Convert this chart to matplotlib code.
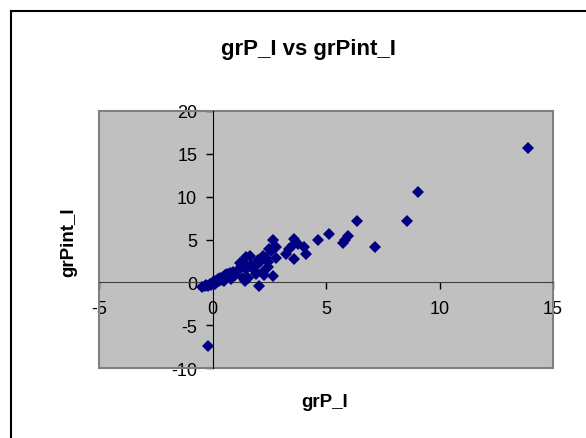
import numpy as np
import matplotlib
matplotlib.use("Agg")
import matplotlib.pyplot as plt
from matplotlib.patches import Rectangle

plt.rcParams['font.family'] = ['Liberation Sans', 'DejaVu Sans']
plt.rcParams['axes.unicode_minus'] = False

# grP_I / grPint_I pairs
grP_I = [-0.46, -0.35, -0.28, -0.2, -0.13, -0.06, 0.0, 0.05, 0.1, 0.15,
         0.2, 0.25, 0.3, 0.35, 0.4, 0.45, 0.5, 0.55, 0.6, 0.65,
         0.7, 0.75, 0.8, 0.85, 0.9, 1.0, 1.05,
         1.12, 1.2, 1.27, 1.34, 1.34, 1.41, 1.48, 1.48, 1.56, 1.63,
         1.7, 1.78, 1.85, 1.92, 2.0, 2.07, 2.07, 2.14, 2.22, 2.29,
         2.36, 2.44, 2.51, 2.58, 2.66, 2.66, 2.73, 2.8, 2.78, 2.22, 2.44,
         3.25, 3.39, 3.55, 3.61, 3.61, 3.76, 4.05, 4.13, 4.64, 5.15,
         5.77, 5.85, 5.96, 6.36, 7.14, 8.58, 9.05, 13.9, -0.2]
grPint_I = [-0.5, -0.4, -0.3, -0.45, -0.2, -0.35, -0.1, 0.1, -0.2, 0.2,
            0.0, 0.35, 0.15, 0.5, 0.3, 0.6, 0.2, 0.8, 0.5, 1.0,
            0.7, 1.1, 0.4, 0.9, 1.2, 0.8, 1.1,
            1.4, 2.2, 1.8, 2.4, 0.5, 0.2, 1.6, 2.95, 0.5, 3.1,
            2.0, 1.8, 1.4, 1.0, 2.55, -0.37, 2.2, 2.75, 3.1, 0.9,
            2.8, 1.8, 3.9, 3.6, 0.7, 4.9, 4.1, 4.1, 2.8, 1.2, 2.4,
            3.3, 3.9, 4.3, 5.1, 2.75, 4.5, 4.1, 3.3, 4.9, 5.7,
            4.6, 5.0, 5.4, 7.15, 4.1, 7.15, 10.5, 15.7, -7.4]

xticks = [-5, 0, 5, 10, 15]
yticks = [-10, -5, 0, 5, 10, 15, 20]

fig = plt.figure(figsize=(5.86, 4.39), dpi=100)
ax = fig.add_axes([99/586, 1-369/439, 454/586, 257/439])
ax.set_facecolor('#C0C0C0')

ax.plot(grP_I, grPint_I, 'D', color='#000080', markersize=6.5,
        markeredgewidth=0, clip_on=False, zorder=3)

ax.set_xlim(-5, 15)
ax.set_ylim(-10, 20)
ax.set_xticks(xticks)
ax.set_yticks(yticks)

# axes cross at the origin
ax.spines['left'].set_position(('data', 0))
ax.spines['bottom'].set_position(('data', 0))
ax.spines['left'].set_color('black')
ax.spines['bottom'].set_color('#404040')
for s in ['top', 'right']:
    ax.spines[s].set_visible(False)
ax.add_patch(Rectangle((0, 0), 1, 1, transform=ax.transAxes, fill=False,
                       edgecolor='#808080', linewidth=1.5, clip_on=False,
                       zorder=2))

ax.tick_params(axis='both', direction='out', length=5, width=1,
               labelsize=13, colors='black')
ax.tick_params(axis='x', pad=8)
ax.tick_params(axis='y', pad=6)

fig.text(308/586, 1-50/439, 'grP_I vs grPint_I', ha='center', va='center',
         fontsize=16, fontweight='bold')
fig.text(325/586, 1-403/439, 'grP_I', ha='center', va='center',
         fontsize=13.5, fontweight='bold')
fig.text(69/586, 1-242/439, 'grPint_I', ha='center', va='center',
         rotation=90, fontsize=13.5, fontweight='bold')

# chart border (left and top edges visible)
fig.add_artist(plt.Line2D([11/586, 11/586], [0, 1-12/439], color='black',
                          linewidth=1.5, transform=fig.transFigure))
fig.add_artist(plt.Line2D([11/586, 1], [1-12/439, 1-12/439], color='black',
                          linewidth=1.5, transform=fig.transFigure))

fig.savefig('out.png', dpi=100)
